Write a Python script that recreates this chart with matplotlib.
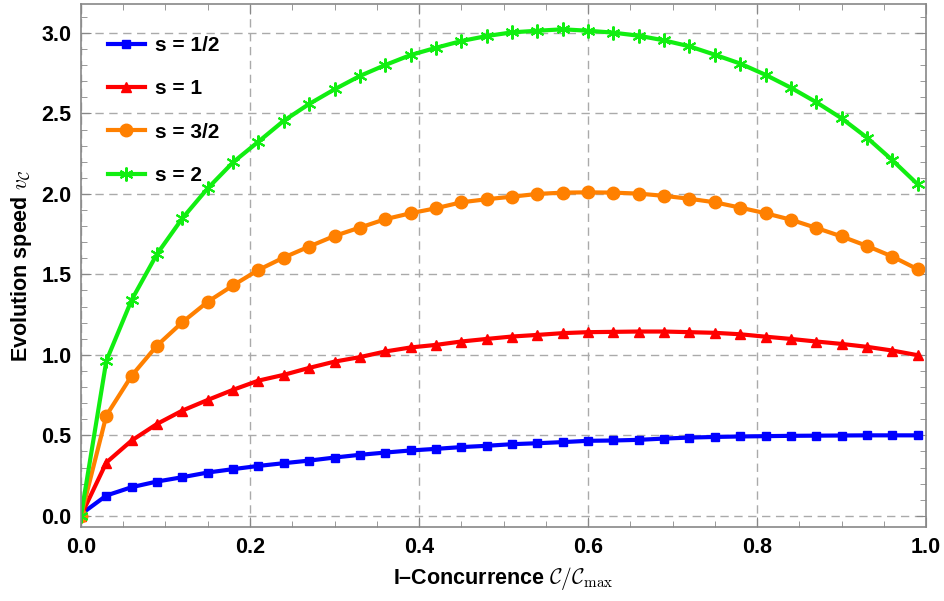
import numpy as np
import matplotlib
matplotlib.use('Agg')
import matplotlib.pyplot as plt

plt.rcParams['font.family'] = ['Liberation Sans', 'DejaVu Sans']
plt.rcParams['font.weight'] = 'bold'
plt.rcParams['mathtext.fontset'] = 'cm'

x = [0.00, 0.03, 0.06, 0.09, 0.12, 0.15, 0.18, 0.21, 0.24, 0.27, 0.30, 0.33,
     0.36, 0.39, 0.42, 0.45, 0.48, 0.51, 0.54, 0.57, 0.60, 0.63, 0.66, 0.69,
     0.72, 0.75, 0.78, 0.81, 0.84, 0.87, 0.90, 0.93, 0.96, 0.99]

v_half = [0.01, 0.126, 0.178, 0.213, 0.240, 0.269, 0.290, 0.310, 0.327, 0.343, 0.362, 0.379,
          0.393, 0.406, 0.416, 0.427, 0.435, 0.445, 0.451, 0.458, 0.466, 0.468, 0.472, 0.480,
          0.486, 0.490, 0.493, 0.495, 0.497, 0.498, 0.499, 0.500, 0.500, 0.500]

v_one = [0.0, 0.331, 0.468, 0.571, 0.654, 0.720, 0.783, 0.840, 0.876, 0.919, 0.958, 0.986,
         1.021, 1.046, 1.062, 1.083, 1.099, 1.114, 1.124, 1.135, 1.141, 1.143, 1.145, 1.145,
         1.141, 1.137, 1.128, 1.113, 1.099, 1.083, 1.068, 1.050, 1.027, 0.998]

v_three_half = [0.0, 0.623, 0.871, 1.058, 1.203, 1.330, 1.432, 1.528, 1.605, 1.673, 1.739, 1.791,
                1.843, 1.880, 1.911, 1.948, 1.967, 1.983, 2.000, 2.008, 2.010, 2.008, 2.002, 1.988,
                1.970, 1.948, 1.915, 1.880, 1.840, 1.789, 1.736, 1.677, 1.611, 1.532]

v_two = [0.0, 0.963, 1.342, 1.627, 1.849, 2.035, 2.197, 2.325, 2.455, 2.559, 2.650, 2.733,
         2.801, 2.863, 2.908, 2.950, 2.981, 3.004, 3.014, 3.023, 3.014, 3.002, 2.983, 2.954,
         2.917, 2.865, 2.810, 2.740, 2.660, 2.570, 2.470, 2.350, 2.210, 2.060]

fig = plt.figure(figsize=(9.45, 6.01), dpi=100)
ax = fig.add_axes([0.0857, 0.123, 0.8943, 0.8703])

ax.plot(x, v_half, color='#0000ff', lw=3, marker='s', ms=6, label='s = 1/2')
ax.plot(x, v_one, color='#ff0000', lw=3, marker='^', ms=7.5, label='s = 1')
ax.plot(x, v_three_half, color='#ff8000', lw=3, marker='o', ms=9, label='s = 3/2')
ax.plot(x, v_two, color='#11ee11', lw=3, marker=(6, 2, 0), ms=10, mew=1.5, label='s = 2')

ax.set_xlim(0, 1)
ax.set_ylim(-0.07, 3.18)
ax.set_xticks(np.arange(0, 1.01, 0.2))
ax.set_yticks(np.arange(0, 3.01, 0.5))
ax.set_xticks(np.arange(0, 1.01, 0.05), minor=True)
ax.set_yticks(np.arange(0, 3.15, 0.1), minor=True)
ax.tick_params(which='both', direction='in', top=True, right=True, color='#888888',
               labelsize=15.5, pad=7)
ax.tick_params(which='major', length=7)
ax.tick_params(which='minor', length=4)
for lab in ax.get_xticklabels() + ax.get_yticklabels():
    lab.set_fontweight('bold')
for s in ax.spines.values():
    s.set_color('#888888')
    s.set_linewidth(1.2)

ax.grid(True, which='major', color='#aaaaaa', linestyle=(0, (6, 4)), lw=1)

ax.set_xlabel(r'I–Concurrence $\mathcal{C}/\mathcal{C}_{\mathrm{max}}$', fontsize=15.5, fontweight='bold', labelpad=5)
ax.set_ylabel(r'Evolution speed $v_{\mathcal{C}}$', fontsize=15.5, fontweight='bold', labelpad=5)

leg = ax.legend(loc='upper left', frameon=False, fontsize=15, handlelength=1.75,
                handletextpad=0.5, labelspacing=1.17, bbox_to_anchor=(0.01, 0.975))
for t in leg.get_texts():
    t.set_fontweight('bold')

fig.savefig('out.png', dpi=100)
